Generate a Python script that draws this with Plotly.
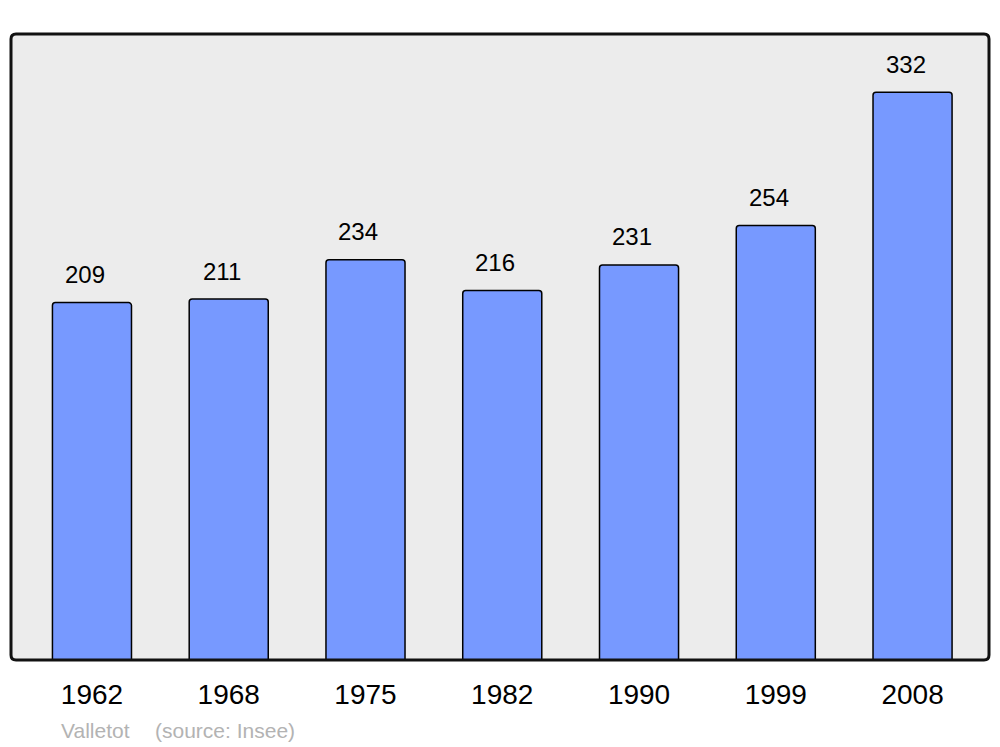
import plotly.graph_objects as go

years = ["1962", "1968", "1975", "1982", "1990", "1999", "2008"]
population = [209, 211, 234, 216, 231, 254, 332]
place = "Valletot"
source = "(source: Insee)"

W, H = 1000, 747
L, T = 11, 34
pw, ph = 978, 626
R, B = W - L - pw, H - T - ph

idx = list(range(len(years)))
FONT = "Liberation Sans, Arial, sans-serif"

fig = go.Figure()
fig.add_trace(go.Bar(
    x=idx, y=population, width=0.578,
    marker=dict(color="#7799ff", line=dict(color="#000000", width=1.5), cornerradius=3),
    customdata=years, hovertemplate="%{customdata}: %{y}<extra></extra>",
))

for i, v in zip(idx, population):
    fig.add_annotation(x=i, y=v, text=str(v), showarrow=False, xref="x", yref="y",
                       yanchor="middle", yshift=28, xshift=-7,
                       font=dict(family=FONT, size=24, color="#000"))

fy = (T + ph - 730) / ph
fig.add_annotation(xref="paper", yref="paper", x=(59 - L) / pw, y=fy,
                   text=place, showarrow=False, xanchor="left", yanchor="middle",
                   font=dict(family=FONT, size=21, color="#b3b3b3"))
fig.add_annotation(xref="paper", yref="paper", x=(153 - L) / pw, y=fy,
                   text=source, showarrow=False, xanchor="left", yanchor="middle",
                   font=dict(family=FONT, size=21, color="#b3b3b3"))

rx, ry = 5 / pw, 5 / ph
path = (f"M {rx},0 L {1-rx},0 Q 1,0 1,{ry} L 1,{1-ry} Q 1,1 {1-rx},1 "
        f"L {rx},1 Q 0,1 0,{1-ry} L 0,{ry} Q 0,0 {rx},0 Z")
fig.add_shape(type="path", path=path, xref="paper", yref="paper",
              line=dict(color="#111111", width=3), layer="above")

fig.update_layout(
    width=W, height=H,
    margin=dict(l=L, r=R, t=T, b=B, pad=0),
    paper_bgcolor="#ffffff", plot_bgcolor="#ececec",
    showlegend=False,
    font=dict(family=FONT),
    xaxis=dict(range=[-0.592, 6.559], showgrid=False, zeroline=False,
               tickmode="array", tickvals=idx, ticktext=years,
               showline=False, ticks="outside", ticklen=9, tickcolor="rgba(0,0,0,0)",
               tickfont=dict(size=28, color="#000")),
    yaxis=dict(range=[0, 366], showgrid=False, zeroline=False, showticklabels=False,
               showline=False, ticks=""),
)

fig.write_html("out.html", config={"displayModeBar": False},
               post_script="document.body.style.margin='0';document.body.style.overflow='hidden';")
